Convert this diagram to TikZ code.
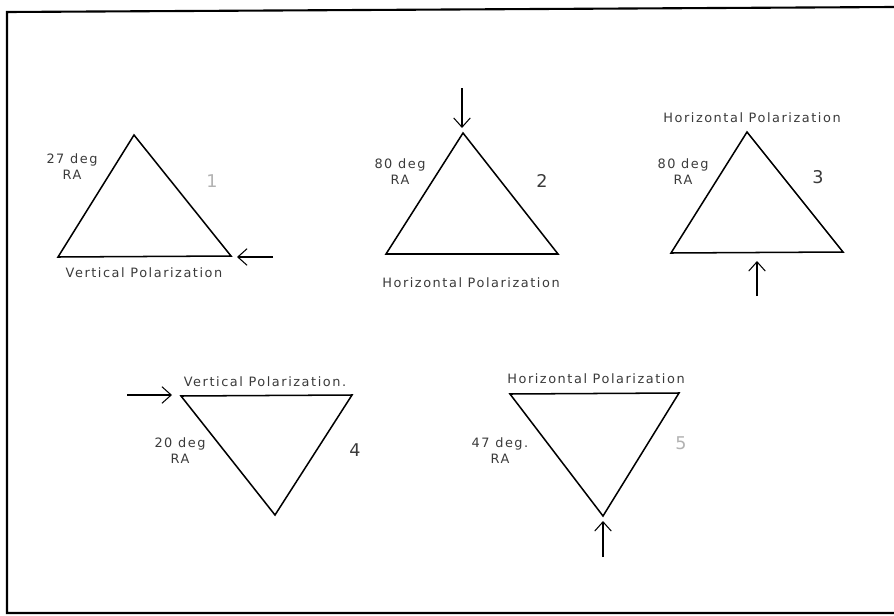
\documentclass[tikz,border=0pt]{standalone}
\usepackage{fontspec}
\usepackage{tikz}
\usetikzlibrary{arrows.meta}
\newfontfamily\plotfont[LetterSpace=12]{DejaVu Sans}
\definecolor{inkgray}{HTML}{3A3A3A}

\begin{document}
\begin{tikzpicture}[x=0.03cm, y=-0.03cm,
    tri/.style={line width=1.3pt, line join=miter},
    ray/.style={line width=0.9pt, -{Straight Barb[length=2.8mm, width=5mm]}},
    lbl/.style={font=\plotfont\fontsize{11}{13.5}\selectfont, text=inkgray, inner sep=0pt},
    ang/.style={lbl, align=center},
    num/.style={font=\plotfont\fontsize{15}{17}\selectfont, text=inkgray, inner sep=0pt}]
    \useasboundingbox (0,0) rectangle (894,616);

    % Frame
    \draw[line width=1.8pt] (894,7) -- (7,12) -- (7,613) -- (894,613);

    % Triangle 1
    \coordinate (t1top) at (134,135);
    \coordinate (t1left) at (58,257);
    \coordinate (t1right) at (231,256);
    \draw[tri] (t1top) -- (t1left) -- (t1right) -- cycle;
    \coordinate (a1from) at (273,257);
    \coordinate (a1to) at (237,257);
    \draw[ray] (a1from) -- (a1to);
    \node[ang] (ra1) at (72,167) {27 deg\\RA};
    \node[num, text=gray!60] (n1) at (212,181) {1};
    \node[lbl] (pol1) at (144,273) {Vertical Polarization};

    % Triangle 2
    \coordinate (t2top) at (463,133);
    \coordinate (t2left) at (386,254);
    \coordinate (t2right) at (558,254);
    \draw[tri] (t2top) -- (t2left) -- (t2right) -- cycle;
    \coordinate (a2from) at (462,88);
    \coordinate (a2to) at (462,128);
    \draw[ray] (a2from) -- (a2to);
    \node[ang] (ra2) at (400,172) {80 deg\\RA};
    \node[num] (n2) at (542,181) {2};
    \node[lbl] (pol2) at (471,283) {Horizontal Polarization};

    % Triangle 3
    \coordinate (t3top) at (747,132);
    \coordinate (t3left) at (671,253);
    \coordinate (t3right) at (843,252);
    \draw[tri] (t3top) -- (t3left) -- (t3right) -- cycle;
    \coordinate (a3from) at (757,296);
    \coordinate (a3to) at (757,261);
    \draw[ray] (a3from) -- (a3to);
    \node[ang] (ra3) at (683,172) {80 deg\\RA};
    \node[num] (n3) at (818,177) {3};
    \node[lbl] (pol3) at (752,118) {Horizontal Polarization};

    % Triangle 4 (inverted)
    \coordinate (t4left) at (181,396);
    \coordinate (t4right) at (352,395);
    \coordinate (t4bot) at (275,515);
    \draw[tri] (t4left) -- (t4right) -- (t4bot) -- cycle;
    \coordinate (a4from) at (127,395);
    \coordinate (a4to) at (172,395);
    \draw[ray] (a4from) -- (a4to);
    \node[ang] (ra4) at (180,451) {20 deg\\RA};
    \node[num] (n4) at (355,450) {4};
    \node[lbl] (pol4) at (265,382) {Vertical Polarization.};

    % Triangle 5 (inverted)
    \coordinate (t5left) at (510,394);
    \coordinate (t5right) at (679,393);
    \coordinate (t5bot) at (603,516);
    \draw[tri] (t5left) -- (t5right) -- (t5bot) -- cycle;
    \coordinate (a5from) at (603,557);
    \coordinate (a5to) at (603,521);
    \draw[ray] (a5from) -- (a5to);
    \node[ang] (ra5) at (500,451) {47 deg.\\RA};
    \node[num, text=gray!60] (n5) at (681,443) {5};
    \node[lbl] (pol5) at (596,379) {Horizontal Polarization};
\end{tikzpicture}
\end{document}
